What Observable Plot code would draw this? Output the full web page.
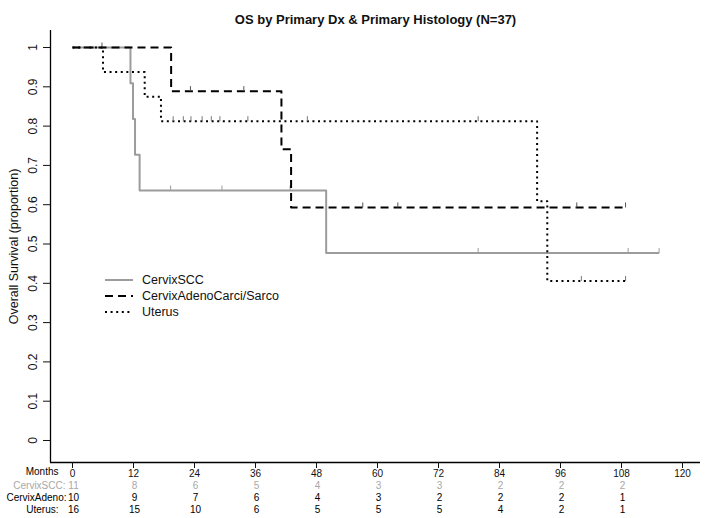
<!DOCTYPE html>
<html><head><meta charset="utf-8">
<script src="https://cdn.jsdelivr.net/npm/d3@7"></script>
<script src="https://cdn.jsdelivr.net/npm/@observablehq/plot@0.6"></script>
<style>
body{margin:0;background:#fff;}
#wrap{position:relative;width:710px;height:518px;}
#legend{position:absolute;left:104px;top:272px;font:12.5px "Liberation Sans",Arial,sans-serif;color:#111;}
#legend div{height:16px;display:flex;align-items:center;}
#legend svg{margin-right:8px;}
</style></head><body><div id="wrap"><div id="legend"></div></div>
<script>
// ---- data ----
const groups = ["CervixSCC", "CervixAdenoCarci/Sarco", "Uterus"];
const sccTimes = [0, 11.4, 11.9, 12.3, 13.2, 49.9, 115.4];
const sccSurv  = [1, 0.909, 0.818, 0.727, 0.636, 0.477, 0.477];
const sccCensor = [19.3, 29.4, 42.8, 79.8, 109.3, 115.4];
const adenoTimes = [0, 19.4, 41.1, 43.0, 109.0];
const adenoSurv  = [1, 0.889, 0.741, 0.593, 0.593];
const adenoCensor = [5.8, 23.2, 33.7, 57.1, 64.0, 99.2, 108.8];
const uterusTimes = [0, 6.0, 14.2, 17.4, 91.4, 93.4, 108.8];
const uterusSurv  = [1, 0.9375, 0.875, 0.8125, 0.609, 0.406, 0.406];
const uterusCensor = [19.8, 21.8, 23.3, 25.5, 27.3, 29.0, 34.5, 46.2, 79.8, 100.1, 108.8];
const riskTimes = [0, 12, 24, 36, 48, 60, 72, 84, 96, 108];
const sccRisk = [11, 8, 6, 5, 4, 3, 3, 2, 2, 2];
const adenoRisk = [10, 9, 7, 6, 4, 3, 2, 2, 2, 1];
const uterusRisk = [16, 15, 10, 6, 5, 5, 5, 4, 2, 1];
const xTicks = [0, 12, 24, 36, 48, 60, 72, 84, 96, 108, 120];
const yTicks = [0, 0.1, 0.2, 0.3, 0.4, 0.5, 0.6, 0.7, 0.8, 0.9, 1];
const yTickLabels = ["0", "0.1", "0.2", "0.3", "0.4", "0.5", "0.6", "0.7", "0.8", "0.9", "1"];
const riskRowLabels = ["Months", "CervixSCC:", "CervixAdeno:", "Uterus:"];
const title = "OS by Primary Dx & Primary Histology (N=37)";
const yLabel = "Overall Survival (proportion)";

// ---- styles ----
const GRAY = "#9c9c9c";
const styles = [
  {stroke: GRAY, dash: null, tick: GRAY},
  {stroke: "#000", dash: "8,5", tick: "#555"},
  {stroke: "#000", dash: "2,3.6", tick: "#777"}
];
const font = '"Liberation Sans",Arial,sans-serif';

const series = [
  {times: sccTimes, surv: sccSurv, censor: sccCensor},
  {times: adenoTimes, surv: adenoSurv, censor: adenoCensor},
  {times: uterusTimes, surv: uterusSurv, censor: uterusCensor}
];
function survAt(times, surv, t) {
  let s = surv[0];
  for (let i = 0; i < times.length; i++) if (times[i] <= t) s = surv[i];
  return s;
}
const tickSym = {draw(ctx) { ctx.moveTo(0, 0); ctx.lineTo(0, -5); }};

const marks = [];
const xDom = [-4.33, 123.54], yDom = [-0.056, 1.0433];
// axis lines
marks.push(Plot.ruleY([yDom[0]], {stroke: "#000", strokeWidth: 1.3}));
marks.push(Plot.ruleX([xDom[0]], {stroke: "#000", strokeWidth: 1.3}));
// curves
series.forEach((ser, gi) => {
  const rows = ser.times.map((t, i) => ({t, s: ser.surv[i]}));
  marks.push(Plot.line(rows, {x: "t", y: "s", curve: "step-after", stroke: styles[gi].stroke,
    strokeWidth: 2, strokeDasharray: styles[gi].dash, strokeLinecap: "butt"}));
  const cr = ser.censor.map(t => ({t, s: survAt(ser.times, ser.surv, t)}));
  marks.push(Plot.dot(cr, {x: "t", y: "s", symbol: tickSym, fill: "none", stroke: styles[gi].tick, strokeWidth: 1}));
});
// axes
marks.push(Plot.axisX({ticks: xTicks, tickSize: 6, tickPadding: 1, fontSize: 10, label: null, tickFormat: d => String(d)}));
marks.push(Plot.axisY({ticks: yTicks, tickSize: 7, tickFormat: () => "", label: null}));
marks.push(Plot.text(yTicks, {y: d => d, text: (d, i) => yTickLabels[i], frameAnchor: "left", dx: -17, rotate: -90,
  textAnchor: "middle", lineAnchor: "middle", fontSize: 12, fill: "#111"}));
marks.push(Plot.text([yLabel], {frameAnchor: "left", dx: -37, rotate: -90, textAnchor: "middle", lineAnchor: "middle",
  fontSize: 12.5, fill: "#111"}));
// title
marks.push(Plot.text([title], {frameAnchor: "top", dy: -16, fontSize: 13, fontWeight: "bold", fill: "#111"}));
// risk table
const rowDy = [12.5, 26, 38, 50];
const rowDx = [-14, -7, -6, -14];
const rowFill = ["#000", "#a8a8a8", "#000", "#000"];
riskRowLabels.forEach((lab, r) => {
  marks.push(Plot.text([lab], {x: 0, frameAnchor: "bottom", dy: rowDy[r], dx: rowDx[r], textAnchor: "end",
    fontSize: 10, fill: rowFill[r]}));
});
[sccRisk, adenoRisk, uterusRisk].forEach((risk, k) => {
  marks.push(Plot.text(riskTimes, {x: d => d, text: (d, i) => String(risk[i]), frameAnchor: "bottom",
    dy: rowDy[k + 1], dx: 1, fontSize: 10, fill: rowFill[k + 1]}));
});

const chart = Plot.plot({
  width: 710, height: 518,
  marginTop: 30, marginBottom: 56, marginLeft: 50, marginRight: 10,
  style: {fontFamily: font, color: "#111", background: "#fff"},
  x: {domain: xDom},
  y: {domain: yDom},
  marks
});
document.getElementById("wrap").prepend(chart);

// legend
const leg = document.getElementById("legend");
groups.forEach((g, gi) => {
  const row = document.createElement("div");
  const st = styles[gi];
  row.innerHTML = `<svg width="30" height="6"><line x1="1" x2="29" y1="3" y2="3" stroke="${st.stroke}" stroke-width="2" ${st.dash ? `stroke-dasharray="${st.dash}"` : ""}/></svg><span>${g}</span>`;
  leg.appendChild(row);
});
</script>
</body></html>
